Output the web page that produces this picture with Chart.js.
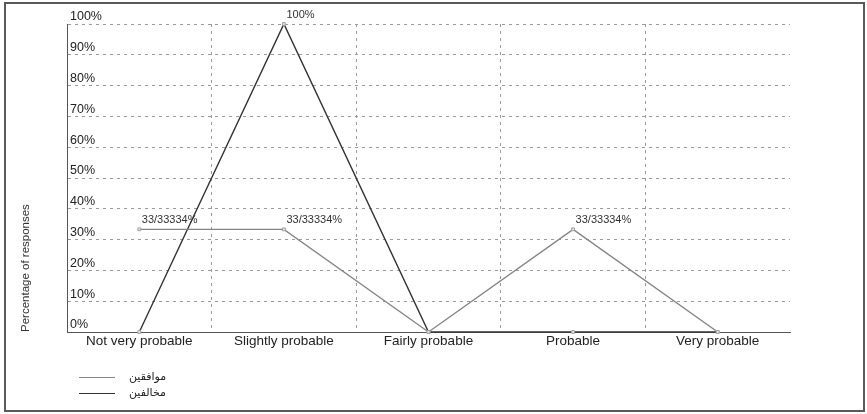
<!DOCTYPE html>
<html><head><meta charset="utf-8">
<script src="https://cdn.jsdelivr.net/npm/chart.js@4"></script>
<style>
html,body{margin:0;padding:0;background:#fff;}
#frame{position:absolute;left:4px;top:2px;width:861px;height:410px;border:2px solid #5a5a5a;box-sizing:border-box;background:#fff;}
#c{display:block;}
</style></head><body>
<div id="frame"><canvas id="c"></canvas></div>
<script>
const categories = ['Not very probable', 'Slightly probable', 'Fairly probable', 'Probable', 'Very probable'];
const seriesNames = ['موافقين', 'مخالفين'];
const agreeValues = [33.33334, 33.33334, 0, 33.33334, 0];
const disagreeValues = [0, 100, 0, 0, 0];
const agreeLabels = ['33/33334%', '33/33334%', '', '33/33334%', ''];
const disagreeLabels = ['', '100%', '', '', ''];
const yAxisTitle = 'Percentage of responses';
const yMin = 0, yMax = 100, yStep = 10;

const FONT = "'Liberation Sans', Arial, 'DejaVu Sans', sans-serif";
Chart.defaults.font.family = FONT;
Chart.defaults.color = '#222';

const pointLabels = [agreeLabels, disagreeLabels];

const dataLabelPlugin = {
  id: 'dataLabels',
  afterDatasetsDraw(chart) {
    const ctx = chart.ctx;
    ctx.save();
    ctx.font = "11px " + FONT;
    ctx.fillStyle = '#333';
    ctx.textAlign = 'left';
    ctx.textBaseline = 'middle';
    chart.data.datasets.forEach((ds, d) => {
      const meta = chart.getDatasetMeta(d);
      meta.data.forEach((pt, i) => {
        const t = pointLabels[d][i];
        if (t) ctx.fillText(t, pt.x + 2.5, pt.y - 9);
      });
    });
    ctx.restore();
  }
};

const legendPlugin = {
  id: 'stackLegend',
  afterDraw(chart) {
    const ctx = chart.ctx;
    ctx.save();
    ctx.font = "11px " + FONT;
    ctx.textAlign = 'left';
    ctx.textBaseline = 'middle';
    const ys = [373.5, 389.5];
    chart.data.datasets.forEach((ds, d) => {
      const y = ys[d];
      ctx.strokeStyle = ds.borderColor;
      ctx.lineWidth = 1.2;
      ctx.beginPath();
      ctx.moveTo(73, y);
      ctx.lineTo(109, y);
      ctx.stroke();
      ctx.fillStyle = '#222';
      ctx.fillText(ds.label, 123, y - 0.5);
    });
    ctx.restore();
  }
};

new Chart(document.getElementById('c'), {
  type: 'line',
  data: {
    labels: categories,
    datasets: [
      {
        label: seriesNames[0], data: agreeValues,
        borderColor: '#858585', borderWidth: 1.4,
        pointStyle: 'rect', pointRadius: 2, pointBorderWidth: 1,
        pointBorderColor: '#a0a0a0', pointBackgroundColor: '#e6e6e6',
        tension: 0, clip: false
      },
      {
        label: seriesNames[1], data: disagreeValues,
        borderColor: '#333333', borderWidth: 1.4,
        pointStyle: 'rect', pointRadius: 2, pointBorderWidth: 1,
        pointBorderColor: '#a0a0a0', pointBackgroundColor: '#e6e6e6',
        tension: 0, clip: false
      }
    ]
  },
  options: {
    responsive: true,
    maintainAspectRatio: false,
    animation: false,
    layout: { padding: { left: 9, right: 73, top: 20, bottom: 60 } },
    plugins: {
      legend: { display: false },
      tooltip: { enabled: false }
    },
    scales: {
      x: {
        offset: true,
        afterFit(scale) { scale.height = 18; },
        grid: {
          offset: true, drawTicks: false, lineWidth: 1,
          color: (ctx) => ctx.type === 'tick' ? '#9a9a9a' : 'rgba(0,0,0,0)'
        },
        border: { display: true, color: '#555', width: 1, dash: [3, 4] },
        ticks: { padding: 1, font: { size: 13.5 }, color: '#222', maxRotation: 0, autoSkip: false }
      },
      y: {
        min: yMin, max: yMax,
        afterFit(scale) { scale.width = 52; },
        grid: {
          drawTicks: false, lineWidth: 1,
          color: (ctx) => (ctx.tick && ctx.tick.value === 0) ? 'rgba(0,0,0,0)' : '#9a9a9a'
        },
        border: { display: true, color: '#555', width: 1, dash: [3, 4] },
        ticks: {
          stepSize: yStep, mirror: true, padding: 3, labelOffset: -7,
          font: { size: 12.5 }, color: '#222',
          callback: (v) => v + '%'
        },
        title: {
          display: true, text: yAxisTitle, align: 'start',
          font: { size: 11.5 }, color: '#333', padding: { top: 4, bottom: 4 }
        }
      }
    }
  },
  plugins: [dataLabelPlugin, legendPlugin]
});
</script>
</body></html>
